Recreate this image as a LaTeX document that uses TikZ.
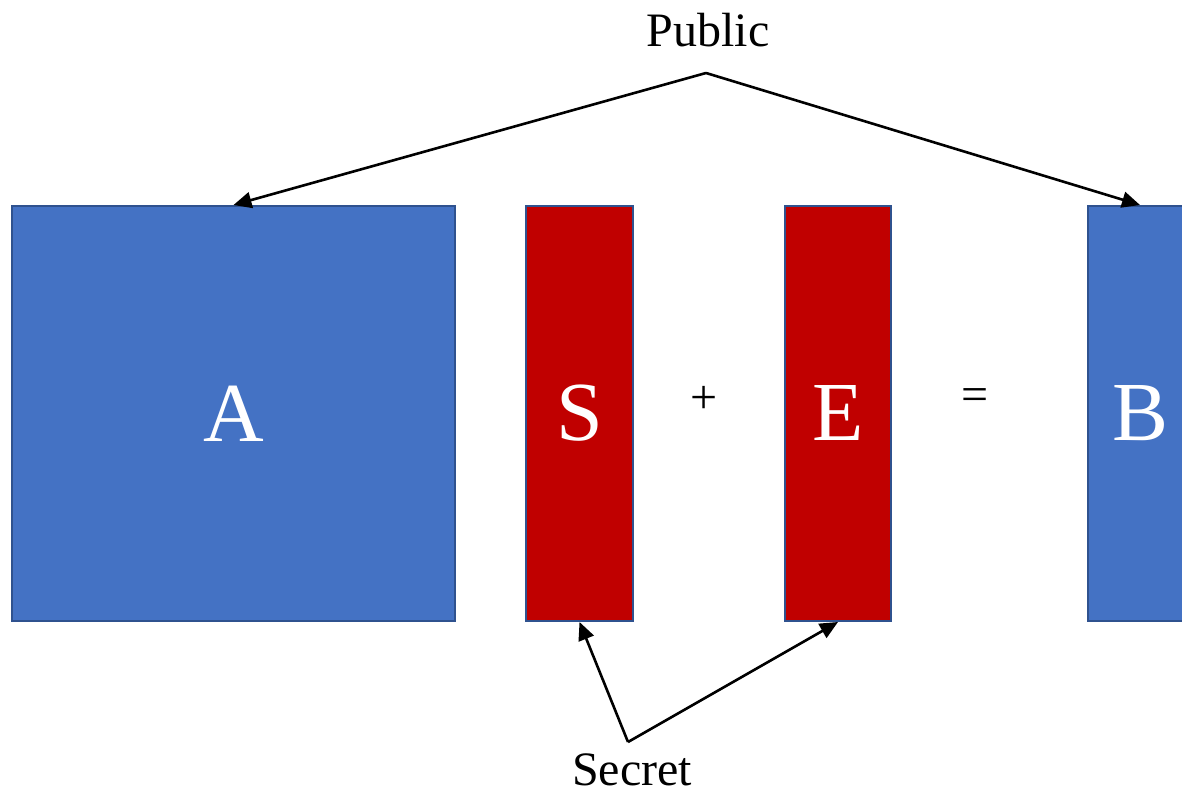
\documentclass[tikz,border=0pt]{standalone}
\usepackage{fontspec}
\setmainfont{Liberation Serif}
\usetikzlibrary{arrows.meta}
\definecolor{pubblue}{HTML}{4472C4}
\definecolor{secred}{HTML}{C00000}
\definecolor{edgeblue}{HTML}{2F528F}
\tikzset{
  mat/.style={draw=edgeblue, line width=1pt, minimum height=207.5pt, inner sep=0pt, text=white, font=\fontsize{42}{48}\selectfont},
  pubbox/.style={mat, fill=pubblue},
  secbox/.style={mat, fill=secred},
  lbl/.style={font=\fontsize{24}{28}\selectfont, inner sep=0pt},
  ptr/.style={line width=1.3pt, -{Triangle[length=9pt,width=8pt]}}
}
\begin{document}
\begin{tikzpicture}[x=0.5pt,y=-0.5pt]
\useasboundingbox (0,0) rectangle (1182,795);
\clip (0,0) rectangle (1182,795);
\node[pubbox, minimum width=221.5pt] (A) at (233.5,413.5) {A};
\node[secbox, minimum width=53.5pt] (S) at (579.5,413.5) {S};
\node[secbox, minimum width=53pt] (E) at (838,413.5) {E};
\node[pubbox, minimum width=52pt] (B) at (1140,413.5) {B};
\node[lbl] (plus) at (704,400) {+};
\node[lbl] (eq) at (975,400) {=};
\node[lbl] (pub) at (708,30) {Public};
\node[lbl] (sec) at (632,770) {Secret};
\coordinate (pa) at (706,73);
\coordinate (sa) at (628,742);
\draw[ptr] (pa) -- (A.north);
\draw[ptr] (pa) -- (B.north);
\draw[ptr] (sa) -- (S.south);
\draw[ptr] (sa) -- (E.south);
\end{tikzpicture}
\end{document}
